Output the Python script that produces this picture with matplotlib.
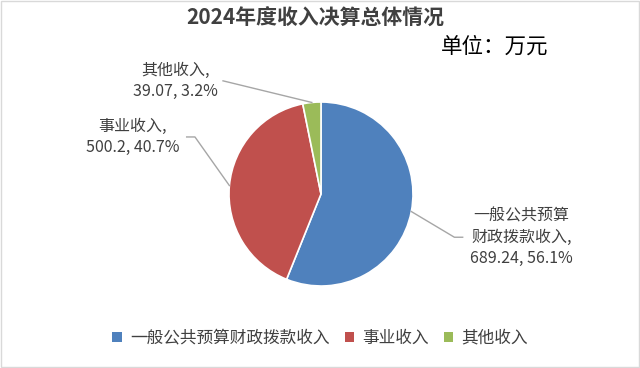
import matplotlib
matplotlib.use("Agg")
import matplotlib.pyplot as plt
from matplotlib.patches import Rectangle, Patch
import numpy as np

plt.rcParams['font.family'] = ['Noto Sans CJK SC', 'DejaVu Sans']

categories = ["一般公共预算财政拨款收入", "事业收入", "其他收入"]
label_names = ["一般公共预算\n财政拨款收入,", "事业收入,", "其他收入,"]
values = [689.24, 500.2, 39.07]
colors = ["#4F81BD", "#C0504D", "#9BBB59"]

fig = plt.figure(figsize=(6.4, 3.68), dpi=100)
fig.patch.set_facecolor("white")
fig.patches.append(Rectangle((0.002, 0.003), 0.996, 0.994, transform=fig.transFigure,
                             fill=False, edgecolor="#D9D9D9", linewidth=1))

cx, cy, r = 321 / 640, 1 - 194 / 368, 92
ax = fig.add_axes([cx - r / 640, cy - r / 368, 2 * r / 640, 2 * r / 368])
wedges, _ = ax.pie(values, colors=colors, startangle=90, counterclock=False,
                   wedgeprops=dict(edgecolor="white", linewidth=1.2))
ax.set_xlim(-1, 1)
ax.set_ylim(-1, 1)
ax.set_aspect("equal")

total = sum(values)
pcts = [v / total * 100 for v in values]
labels = [f"{n}\n{v:g}, {p:.1f}%" for n, v, p in zip(label_names, values, pcts)]

# text positions (axes data units, radius=1) and leader elbows
text_pos = [(2.18, -0.47), (-2.05, 0.62), (-1.58, 1.23)]
elbows = [[(1.45, -0.47), (1.54, -0.47)], [(-1.37, 0.62), (-1.46, 0.62)], [(-1.065, 1.23)]]
grey = "#A6A6A6"
for i, w in enumerate(wedges):
    mid = np.deg2rad((w.theta1 + w.theta2) / 2)
    px, py = np.cos(mid), np.sin(mid)
    pts = [(px, py)] + elbows[i]
    xs, ys = zip(*pts)
    ax.plot(xs, ys, color=grey, lw=1, clip_on=False)
    ax.text(text_pos[i][0], text_pos[i][1], labels[i], ha="center", va="center",
            fontsize=11.5, color="#404040", linespacing=1.32, clip_on=False)

fig.text(0.493, 0.951, "2024年度收入决算总体情况", ha="center", va="center",
         fontsize=15, fontweight="bold", color="#404040")
fig.text(0.773, 0.872, "单位：万元", ha="center", va="center",
         fontsize=15.5, color="#000000")

handles = [Patch(facecolor=c, edgecolor="none") for c in colors]
fig.legend(handles, categories, loc="center", bbox_to_anchor=(0.5, 1 - 338 / 368),
           ncol=3, frameon=False, fontsize=12, handlelength=0.55, handleheight=0.55,
           handletextpad=0.5, columnspacing=0.9, labelcolor="#404040")

fig.savefig("out.png", dpi=100)
